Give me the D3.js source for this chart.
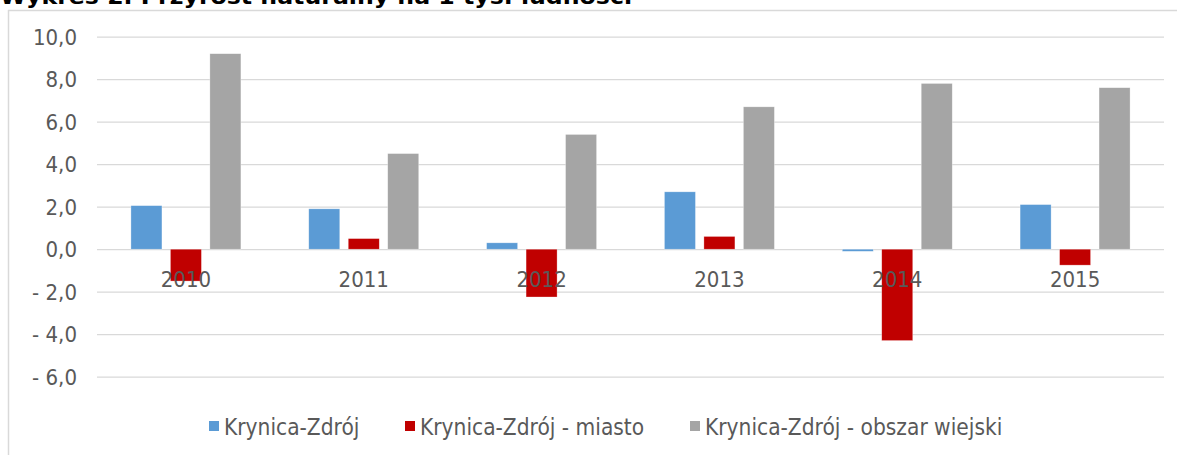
<!DOCTYPE html>
<html><head><meta charset="utf-8">
<script src="https://cdn.jsdelivr.net/npm/d3@7"></script>
<style>
html,body{margin:0;padding:0;background:#fff;}
svg{display:block;}
text{font-family:"DejaVu Sans Condensed","DejaVu Sans",sans-serif;font-stretch:condensed;}
</style></head>
<body><svg id="c" width="1177" height="455"></svg>
<script>
const title = "Wykres 2. Przyrost naturalny na 1 tys. ludności";
const categories = ["2010","2011","2012","2013","2014","2015"];
const seriesNames = ["Krynica-Zdrój","Krynica-Zdrój - miasto","Krynica-Zdrój - obszar wiejski"];
const gmina = [2.05, 1.9, 0.3, 2.7, -0.1, 2.1];
const miasto = [-1.5, 0.5, -2.25, 0.6, -4.3, -0.75];
const wies = [9.2, 4.5, 5.4, 6.7, 7.8, 7.6];
const yTicks = [10, 8, 6, 4, 2, 0, -2, -4, -6];
const colors = ["#5B9BD5", "#C00000", "#A5A5A5"];

const series = [gmina, miasto, wies];
const svg = d3.select("#c");

// frame
svg.append("line").attr("x1",8).attr("x2",1177).attr("y1",10.5).attr("y2",10.5)
  .attr("stroke","#d9d9d9").attr("stroke-width",1.5);
svg.append("line").attr("x1",8.5).attr("x2",8.5).attr("y1",10).attr("y2",455)
  .attr("stroke","#d9d9d9").attr("stroke-width",1.5);

// title (cut off at top, as in the reference)
svg.append("text").attr("x",0).attr("y",4).attr("font-weight","bold")
  .attr("font-size",22).attr("fill","#000")
  .attr("textLength",632).attr("lengthAdjust","spacingAndGlyphs")
  .text(title);

const left = 97, right = 1164;
const y = d3.scaleLinear().domain([-6, 10]).range([376.7, 36.7]);
const x0 = d3.scaleBand().domain(categories).range([left, right]).padding(0);
const bw = x0.bandwidth();
const barW = bw * 0.1744, step = bw * 0.222;

// grid
const fmt = v => (v < 0 ? "- " : "") + d3.format(".1f")(Math.abs(v)).replace(".", ",");
const yAxis = d3.axisLeft(y).tickValues(yTicks).tickSize(-(right-left)).tickFormat(fmt).tickPadding(20);
const ga = svg.append("g").attr("transform",`translate(${left},0)`).call(yAxis);
ga.select(".domain").remove();
ga.selectAll(".tick line").attr("stroke","#d9d9d9").attr("stroke-width",1.3);
ga.selectAll(".tick text").attr("fill","#595959").attr("font-size",22).attr("font-family",null)
  .attr("dy","0.35em");

// bars
const g = svg.append("g");
categories.forEach((c, i) => {
  const cx = x0(c) + bw / 2;
  series.forEach((s, k) => {
    const v = s[i];
    g.append("rect")
      .attr("x", cx + (k - 1) * step - barW / 2)
      .attr("width", barW)
      .attr("y", y(Math.max(0, v)))
      .attr("height", Math.abs(y(v) - y(0)))
      .attr("fill", colors[k])
      .attr("stroke", "#fff").attr("stroke-opacity", 0.5).attr("stroke-width", 0.6);
  });
});

// x labels
const xAxis = d3.axisBottom(x0).tickSize(0).tickPadding(0);
const gx = svg.append("g").attr("transform",`translate(0,${y(0)})`).call(xAxis);
gx.select(".domain").remove();
gx.selectAll(".tick text").attr("fill","#595959").attr("font-size",22).attr("font-family",null)
  .attr("y", 38).attr("dy", null);

// legend
const legX = [209, 405, 690];
const leg = svg.append("g");
seriesNames.forEach((n, k) => {
  leg.append("rect").attr("x", legX[k]).attr("y", 421).attr("width", 10).attr("height", 10).attr("fill", colors[k]);
  leg.append("text").attr("x", legX[k] + 15).attr("y", 435).attr("font-size", 22.5)
    .attr("fill", "#595959").text(n);
});
</script></body></html>
